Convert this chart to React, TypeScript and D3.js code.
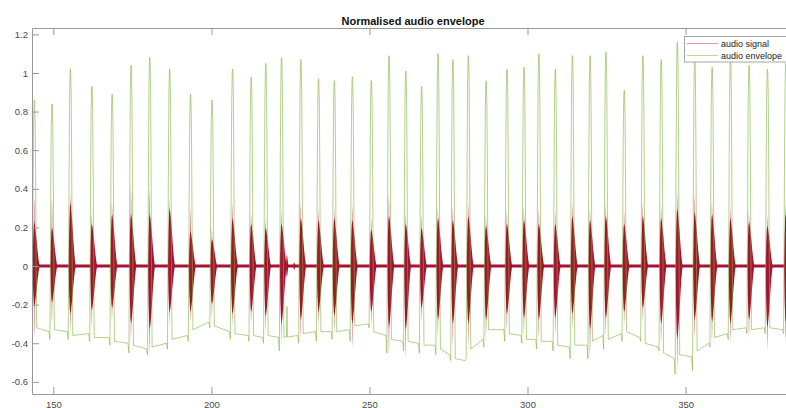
import React, { useEffect, useRef } from "react";
import * as d3 from "d3";

const width = 786;
const height = 408;
// axes box (right edge runs a little past the picture, as in the original)
const plot = { left: 32, right: 794, top: 28, bottom: 394 };

const xTicks = [150, 200, 250, 300, 350];
const yTicks = [-0.6, -0.4, -0.2, 0, 0.2, 0.4, 0.6, 0.8, 1, 1.2];

// envelope peaks
const peakTimes = [
  144.0, 149.6, 155.4, 162.2, 168.6, 174.6, 180.5, 186.8, 193.4, 200.2,
  206.7, 212.6, 217.2, 222.2, 228.3, 233.9, 238.9, 244.6, 250.6, 256.2,
  261.5, 266.5, 271.7, 276.4, 281.3, 286.9, 293.5, 298.9, 303.6, 308.8,
  314.2, 319.8, 324.8, 330.6, 336.5, 342.3, 347.4, 352.9, 358.4, 364.2,
  370.1, 375.9, 381.7,
];
const peakValues = [
  0.86, 0.84, 1.02, 0.93, 0.89, 1.04, 1.08, 1.02, 0.89, 0.86,
  1.02, 0.98, 1.05, 1.08, 1.07, 0.97, 0.96, 0.98, 0.96, 1.09,
  1.01, 0.93, 1.1, 1.07, 1.09, 0.96, 1.02, 1.03, 1.1, 1.02,
  1.09, 1.09, 1.11, 0.91, 1.09, 1.07, 1.16, 1.08, 1.03, 1.08,
  1.04, 1.02, 1.05,
];
// envelope floor after each peak: level after the fall, level before next rise, dip
const floorStart = [
  -0.32, -0.33, -0.36, -0.37, -0.39, -0.41, -0.42, -0.38, -0.33, -0.31,
  -0.35, -0.36, -0.36, -0.37, -0.35, -0.34, -0.34, -0.31, -0.34, -0.38,
  -0.39, -0.41, -0.43, -0.48, -0.43, -0.33, -0.35, -0.38, -0.39, -0.41,
  -0.41, -0.39, -0.38, -0.34, -0.4, -0.45, -0.46, -0.44, -0.37, -0.33,
  -0.33, -0.32, -0.33,
];
const floorEnd = [
  -0.34, -0.34, -0.35, -0.37, -0.4, -0.43, -0.4, -0.36, -0.29, -0.34,
  -0.36, -0.37, -0.37, -0.36, -0.34, -0.34, -0.33, -0.3, -0.36, -0.39,
  -0.4, -0.41, -0.46, -0.49, -0.38, -0.33, -0.36, -0.38, -0.39, -0.42,
  -0.41, -0.36, -0.35, -0.37, -0.42, -0.48, -0.47, -0.4, -0.35, -0.32,
  -0.32, -0.33, -0.33,
];
const floorDip = [
  -0.38, -0.38, -0.39, -0.41, -0.45, -0.46, -0.43, -0.39, -0.32, -0.38,
  -0.39, -0.4, -0.44, -0.4, -0.39, -0.38, -0.39, -0.32, -0.45, -0.44,
  -0.45, -0.46, -0.49, -0.48, -0.42, -0.39, -0.4, -0.43, -0.44, -0.48,
  -0.48, -0.43, -0.39, -0.39, -0.44, -0.56, -0.54, -0.42, -0.38, -0.35,
  -0.35, -0.35, -0.33,
];
const firstDip = -0.36;
const bumpTimes = [223.9];
const bumpValues = [-0.21];

// audio signal bursts (one per peak): dense core and sparse extremes
const coreTop = [
  0.23, 0.2, 0.33, 0.22, 0.27, 0.27, 0.27, 0.3, 0.18, 0.14,
  0.25, 0.22, 0.2, 0.22, 0.25, 0.24, 0.25, 0.24, 0.19, 0.26,
  0.22, 0.2, 0.25, 0.24, 0.26, 0.21, 0.22, 0.24, 0.22, 0.22,
  0.26, 0.24, 0.26, 0.22, 0.26, 0.25, 0.3, 0.28, 0.27, 0.25,
  0.23, 0.21, 0.27,
];
const spikeTop = [
  0.36, 0.36, 0.38, 0.28, 0.34, 0.42, 0.41, 0.35, 0.3, 0.2,
  0.33, 0.28, 0.25, 0.29, 0.33, 0.3, 0.3, 0.32, 0.25, 0.37,
  0.28, 0.27, 0.31, 0.31, 0.33, 0.27, 0.29, 0.31, 0.3, 0.29,
  0.33, 0.3, 0.33, 0.29, 0.33, 0.32, 0.39, 0.38, 0.34, 0.31,
  0.29, 0.27, 0.33,
];
const coreBottom = [
  -0.21, -0.19, -0.25, -0.23, -0.22, -0.3, -0.33, -0.24, -0.24, -0.2,
  -0.25, -0.24, -0.26, -0.3, -0.28, -0.24, -0.26, -0.3, -0.24, -0.32,
  -0.33, -0.22, -0.28, -0.3, -0.3, -0.28, -0.25, -0.27, -0.28, -0.27,
  -0.25, -0.33, -0.27, -0.24, -0.22, -0.3, -0.38, -0.28, -0.29, -0.3,
  -0.28, -0.32, -0.29,
];
const spikeBottom = [
  -0.37, -0.3, -0.34, -0.32, -0.28, -0.39, -0.46, -0.3, -0.29, -0.27,
  -0.31, -0.3, -0.34, -0.4, -0.38, -0.31, -0.35, -0.43, -0.31, -0.46,
  -0.48, -0.29, -0.37, -0.42, -0.42, -0.38, -0.33, -0.36, -0.38, -0.36,
  -0.33, -0.48, -0.36, -0.31, -0.29, -0.41, -0.55, -0.38, -0.39, -0.4,
  -0.38, -0.44, -0.4,
];
const blipTimes = [223.9, 226.2];
const blipAmps = [0.06, 0.02];

const signalColor = "#A2142F";
const spikeColor = "#cf7388";
const envColor = "#7fb33c";

const x = d3.scaleLinear().domain([143.25, 384.3]).range([plot.left, plot.right]);
const y = d3.scaleLinear().domain([-0.663, 1.233]).range([plot.bottom, plot.top]);

// shape of one envelope hump and one burst (time offset, fraction)
const riseShape = [[-0.7, 0], [-0.55, 0.3], [-0.4, 0.65], [-0.25, 0.9], [-0.1, 0.99], [0, 1]];
const fallShape = [[0.1, 0.99], [0.25, 0.9], [0.4, 0.65], [0.55, 0.3], [0.75, 0]];
const coreShape = [
  [-0.55, 0], [-0.4, 0.55], [-0.2, 0.9], [0, 1], [0.2, 0.92], [0.4, 0.8],
  [0.7, 0.6], [1.0, 0.36], [1.3, 0.16], [1.5, 0.06], [1.7, 0],
];
const blipShape = [[-0.3, 0], [-0.15, 0.8], [0, 1], [0.2, 0.6], [0.45, 0]];
const spikeShape = [[-0.3, 0], [-0.08, 1], [0.05, 0.85], [0.25, 0]];

function envelopePoints() {
  const pts: [number, number][] = [[143.0, firstDip]];
  peakTimes.forEach((t, i) => {
    const before = i === 0 ? firstDip : floorDip[i - 1];
    const after = floorStart[i];
    const v = peakValues[i];
    riseShape.forEach(([dt, f]) => pts.push([t + dt, before + (v - before) * f]));
    fallShape.forEach(([dt, f]) => pts.push([t + dt, after + (v - after) * f]));
    const next = i < peakTimes.length - 1 ? peakTimes[i + 1] : 386;
    pts.push([next - 1.0, floorEnd[i]]);
  });
  bumpTimes.forEach((bt, i) => {
    const j = pts.findIndex((p) => p[0] > bt);
    const a = pts[j - 1], b = pts[j];
    const base = a[1] + ((b[1] - a[1]) * (bt - a[0])) / (b[0] - a[0]);
    pts.push([bt - 0.15, base], [bt, bumpValues[i]], [bt + 0.15, base]);
  });
  return pts.sort((a, b) => a[0] - b[0]);
}

type Band = { t: number; lo: number; hi: number };
const band = d3
  .area<Band>()
  .x((d) => x(d.t))
  .y0((d) => y(d.lo))
  .y1((d) => y(d.hi));

function burst(t: number, top: number, bottom: number, shape: number[][]) {
  return band(shape.map(([dt, f]) => ({ t: t + dt, lo: bottom * f, hi: top * f })));
}

export default function App() {
  const xAxisRef = useRef<SVGGElement>(null);
  const topAxisRef = useRef<SVGGElement>(null);
  const yAxisRef = useRef<SVGGElement>(null);

  useEffect(() => {
    d3.select(xAxisRef.current!).call(
      d3.axisBottom(x).tickValues(xTicks).tickSizeInner(-7).tickSizeOuter(0).tickPadding(7).tickFormat((d) => String(d))
    );
    d3.select(topAxisRef.current!).call(
      d3.axisTop(x).tickValues(xTicks).tickSizeInner(-7).tickSizeOuter(0).tickFormat(() => "")
    );
    d3.select(yAxisRef.current!).call(
      d3.axisLeft(y).tickValues(yTicks).tickSizeInner(-7).tickSizeOuter(0).tickPadding(4).tickFormat((d) => String(d))
    );
    [xAxisRef, topAxisRef, yAxisRef].forEach((r) => {
      const g = d3.select(r.current!);
      g.attr("font-size", 9.5).attr("font-family", "'Liberation Sans', Arial, sans-serif");
      g.selectAll(".domain, .tick line").attr("stroke", "#999");
      g.selectAll(".tick text").attr("fill", "#4a4a4a");
    });
  }, []);

  const envLine = d3
    .line<[number, number]>()
    .x((d) => x(d[0]))
    .y((d) => y(d[1]));

  return (
    <svg
      width={width}
      height={height}
      style={{ position: "absolute", left: 0, top: 0, background: "#fff", display: "block" }}
    >
      <defs>
        <clipPath id="plotClip">
          <rect x={plot.left} y={plot.top} width={plot.right - plot.left} height={plot.bottom - plot.top} />
        </clipPath>
      </defs>
      <rect x={0} y={0} width={width} height={height} fill="#fff" />
      <g clipPath="url(#plotClip)">
        <line x1={x(143.0)} x2={x(386)} y1={y(0)} y2={y(0)} stroke={signalColor} strokeWidth={3.2} />
        {peakTimes.map((t, i) => (
          <path key={"s" + i} d={burst(t, spikeTop[i], spikeBottom[i], spikeShape) || ""} fill={spikeColor} />
        ))}
        {peakTimes.map((t, i) => (
          <path key={"c" + i} d={burst(t, coreTop[i], coreBottom[i], coreShape) || ""} fill={signalColor} />
        ))}
        {blipTimes.map((t, i) => (
          <path key={"b" + i} d={burst(t, blipAmps[i], -blipAmps[i], blipShape) || ""} fill={signalColor} />
        ))}
        <path d={envLine(envelopePoints()) || ""} fill="none" stroke={envColor} strokeWidth={0.6} />
      </g>
      <g ref={xAxisRef} transform={`translate(0, ${plot.bottom})`} />
      <g ref={topAxisRef} transform={`translate(0, ${plot.top})`} />
      <g ref={yAxisRef} transform={`translate(${plot.left}, 0)`} />
      <text
        x={(plot.left + plot.right) / 2}
        y={25}
        textAnchor="middle"
        fontFamily="'Liberation Sans', Arial, sans-serif"
        fontWeight="bold"
        fontSize={11}
        fill="#111"
      >
        Normalised audio envelope
      </text>
      <g fontFamily="'Liberation Sans', Arial, sans-serif" fontSize={9} fill="#222">
        <rect x={684.5} y={36.5} width={120} height={25.5} fill="#fff" stroke="#a6a6a6" strokeWidth={1} />
        <line x1={687} x2={718} y1={43.5} y2={43.5} stroke="#d77f93" strokeWidth={0.8} />
        <text x={721} y={47}>audio signal</text>
        <line x1={687} x2={718} y1={55.5} y2={55.5} stroke="#a9d27c" strokeWidth={0.8} />
        <text x={721} y={59.3}>audio envelope</text>
      </g>
    </svg>
  );
}
